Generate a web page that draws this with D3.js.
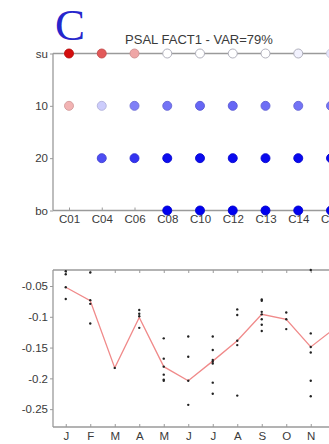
<!DOCTYPE html>
<html>
<head>
<meta charset="utf-8">
<script src="https://cdn.jsdelivr.net/npm/d3@7"></script>
<style>
  html, body { margin: 0; padding: 0; background: #fff; overflow: hidden; }
  svg { display: block; }
  text { font-family: "Liberation Sans", Arial, sans-serif; }
</style>
</head>
<body>
<svg id="chart" width="329" height="444"></svg>
<script>
// Upper panel: station columns and depth levels
const stations = ["C01", "C04", "C06", "C08", "C10", "C12", "C13", "C14", "C16"];
const levels = ["su", "10", "20", "bo"];
// Factor loadings per level (rows) and station (columns); null = no sample
const loadSu = [0.95, 0.65, 0.35, 0.0, 0.0, 0.0, 0.0, -0.05, -0.1];
const load10 = [0.3, -0.2, -0.5, -0.55, -0.6, -0.6, -0.57, -0.55, -0.55];
const load20 = [null, -0.7, -0.8, -0.95, -0.96, -0.96, -0.96, -0.97, -0.97];
const loadBo = [null, null, null, -1, -1, -1, -1, -1, -1];

// Lower panel: monthly factor scores and their mean
const months = ["J", "F", "M", "A", "M", "J", "J", "A", "S", "O", "N", "D"];
const monthMean = [-0.052, -0.074, -0.183, -0.101, -0.181, -0.204, -0.172, -0.139, -0.096, -0.104, -0.149, -0.118];
const monthScores = [
  [-0.026, -0.031, -0.052, -0.071],
  [-0.028, -0.073, -0.079, -0.111],
  [-0.183],
  [-0.089, -0.095, -0.099, -0.118],
  [-0.135, -0.168, -0.181, -0.194, -0.202, -0.204],
  [-0.132, -0.165, -0.204, -0.243],
  [-0.132, -0.154, -0.170, -0.173, -0.176, -0.207, -0.225],
  [-0.088, -0.097, -0.139, -0.146, -0.228],
  [-0.072, -0.074, -0.092, -0.096, -0.104, -0.113, -0.123],
  [-0.093, -0.104, -0.120],
  [-0.024, -0.127, -0.149, -0.158, -0.204, -0.229],
  [-0.118]
];
const yTicks = [-0.05, -0.1, -0.15, -0.2, -0.25];

const svg = d3.select("#chart");
const axisGrey = "#9a9a9a";
const labelCol = "#3a3a3a";

// Panel letter and title
svg.append("text").attr("x", 55).attr("y", 40)
  .style("font-family", "'Liberation Serif', 'Times New Roman', serif")
  .style("font-size", "45px").attr("fill", "#2626cc").text("C");
svg.append("text").attr("x", 199).attr("y", 44).attr("text-anchor", "middle")
  .style("font-size", "13px").attr("fill", labelCol).text("PSAL FACT1 - VAR=79%");

// ---------- upper panel ----------
const x1 = d3.scalePoint().domain(stations).range([69, 69 + 32.75 * (stations.length - 1)]);
const y1 = d3.scalePoint().domain(levels).range([53.5, 210.5]);
const color = d3.scaleLinear().domain([-1, 0, 1]).range(["#0000ee", "#ffffff", "#d20000"]);
const left1 = 53, right1 = 360;

const upper = svg.append("g");
function styleAxis(g) {
  g.select(".domain").remove();
  g.selectAll(".tick line").attr("stroke", axisGrey);
  g.selectAll(".tick text").attr("fill", labelCol).style("font-size", "11.5px")
    .style("font-family", "'Liberation Sans', Arial, sans-serif");
}
// frame lines
upper.append("line").attr("x1", left1).attr("x2", right1).attr("y1", y1("su")).attr("y2", y1("su")).attr("stroke", axisGrey).attr("stroke-width", 1.3);
upper.append("line").attr("x1", left1).attr("x2", right1).attr("y1", y1("bo")).attr("y2", y1("bo")).attr("stroke", axisGrey).attr("stroke-width", 1.3);
upper.append("line").attr("x1", left1).attr("x2", left1).attr("y1", y1("su")).attr("y2", y1("bo")).attr("stroke", axisGrey).attr("stroke-width", 1.3);

upper.append("g").attr("transform", `translate(${left1},0)`)
  .call(d3.axisLeft(y1).tickSize(3).tickPadding(2)).call(styleAxis);
upper.append("g").attr("transform", `translate(0,${y1("bo")})`)
  .call(d3.axisBottom(x1).tickSize(-3).tickPadding(4)).call(styleAxis);

const rows = [loadSu, load10, load20, loadBo];
const cells = [];
rows.forEach((r, i) => r.forEach((v, j) => { if (v !== null) cells.push({ lev: levels[i], st: stations[j], v }); }));
upper.selectAll("circle.cell").data(cells).join("circle").attr("class", "cell")
  .attr("cx", d => x1(d.st)).attr("cy", d => y1(d.lev)).attr("r", 4.5)
  .attr("fill", d => color(d.v))
  .attr("stroke", d => Math.abs(d.v) < 0.08 ? "#a8a8b4" : d3.color(color(d.v)).darker(0.4))
  .attr("stroke-width", 0.9);

// ---------- lower panel ----------
const x2 = d3.scaleLinear().domain([0.5, 12.5]).range([53.5, 347.5]);
const y2 = d3.scaleLinear().domain([-0.279, -0.024]).range([427, 270]);
const left2 = 53, right2 = 360;
const lower = svg.append("g");
lower.append("line").attr("x1", left2).attr("x2", right2).attr("y1", y2.range()[1]).attr("y2", y2.range()[1]).attr("stroke", axisGrey).attr("stroke-width", 1.3);
lower.append("line").attr("x1", left2).attr("x2", right2).attr("y1", y2.range()[0]).attr("y2", y2.range()[0]).attr("stroke", axisGrey).attr("stroke-width", 1.3);
lower.append("line").attr("x1", left2).attr("x2", left2).attr("y1", y2.range()[0]).attr("y2", y2.range()[1]).attr("stroke", axisGrey).attr("stroke-width", 1.3);

const monthIdx = d3.range(1, 13);
lower.append("g").attr("transform", `translate(${left2},0)`)
  .call(d3.axisLeft(y2).tickValues(yTicks).tickSize(3).tickPadding(2).tickFormat(d => String(d)))
  .call(styleAxis);
lower.append("g").attr("transform", `translate(0,${y2.range()[0]})`)
  .call(d3.axisBottom(x2).tickValues(monthIdx).tickSize(-3).tickPadding(5).tickFormat(d => months[d - 1]))
  .call(styleAxis);
lower.append("g").attr("transform", `translate(0,${y2.range()[1]})`)
  .call(d3.axisTop(x2).tickValues(monthIdx).tickSize(-3).tickFormat(() => ""))
  .call(styleAxis);

// mean line
lower.append("path").datum(monthMean)
  .attr("d", d3.line().x((d, i) => x2(i + 1)).y(d => y2(d)))
  .attr("fill", "none").attr("stroke", "#f08a8a").attr("stroke-width", 1.3);

// individual scores
const pts = [];
monthScores.forEach((arr, i) => arr.forEach(v => pts.push({ m: i + 1, v })));
lower.selectAll("circle.pt").data(pts).join("circle").attr("class", "pt")
  .attr("cx", d => x2(d.m)).attr("cy", d => y2(d.v)).attr("r", 1.2).attr("fill", "#222");
</script>
</body>
</html>
